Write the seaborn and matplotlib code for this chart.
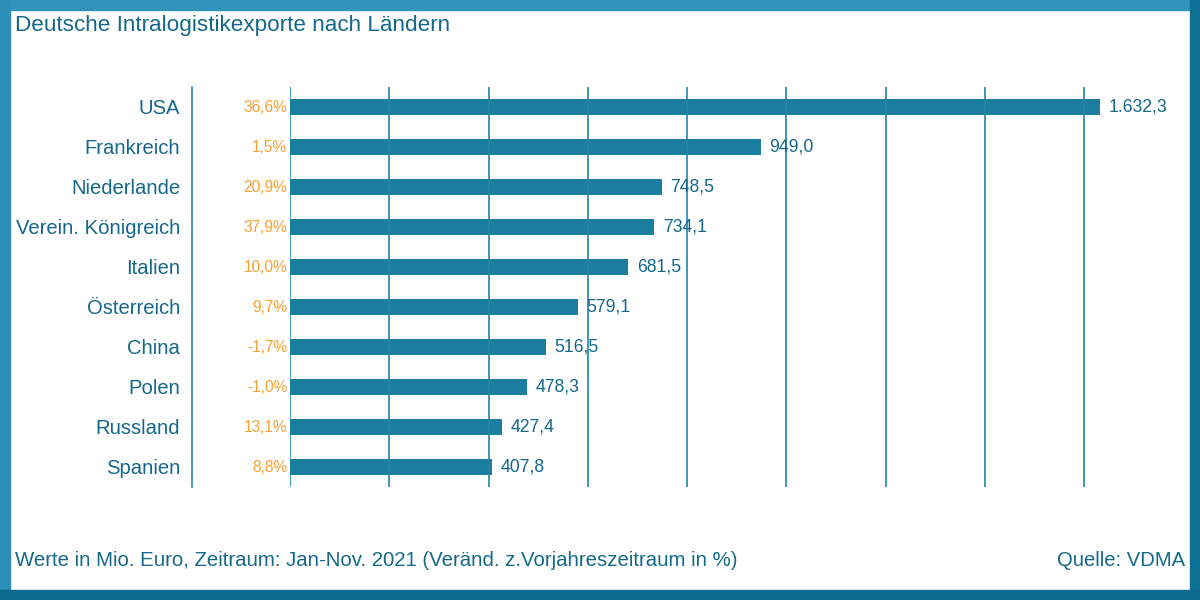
import matplotlib.pyplot as plt
import seaborn as sns
from matplotlib.patches import Rectangle
from matplotlib.lines import Line2D

# Data
countries = ['USA', 'Frankreich', 'Niederlande', 'Verein. Königreich', 'Italien',
             'Österreich', 'China', 'Polen', 'Russland', 'Spanien']
values = [1632.3, 949.0, 748.5, 734.1, 681.5, 579.1, 516.5, 478.3, 427.4, 407.8]
changes = [36.6, 1.5, 20.9, 37.9, 10.0, 9.7, -1.7, -1.0, 13.1, 8.8]
grid_ticks = [0, 200, 400, 600, 800, 1000, 1200, 1400, 1600]

bar_color = '#1b7da0'
text_color = '#14688a'
grid_color = '#3a92b5'
pct_color = '#f5a133'


def de_num(v, dec=1):
    s = f'{v:,.{dec}f}'
    return s.replace(',', 'X').replace('.', ',').replace('X', '.')


sns.set_style('white')
plt.rcParams['font.family'] = ['Liberation Sans', 'DejaVu Sans']

fig = plt.figure(figsize=(12, 6), dpi=100)
ax = fig.add_axes([290 / 1200, 113 / 600, 844 / 1200, 400 / 600])

sns.barplot(x=values, y=countries, orient='h', color=bar_color, width=0.4,
            saturation=1, edgecolor='none', linewidth=0, ax=ax, zorder=2)

# vertical grid lines, full height
ax.vlines(grid_ticks, -0.5, 9.5, colors=grid_color, linewidth=1.3, zorder=1)
ax.vlines(grid_ticks[1:], -0.5, 9.5, colors=grid_color, linewidth=1.3, alpha=0.35, zorder=3)

ax.set_xlim(0, 1700)
ax.set_ylim(9.5, -0.5)
ax.set_xticks([])
ax.grid(False)
for s in ax.spines.values():
    s.set_visible(False)
ax.set_xlabel('')
ax.set_ylabel('')

ax.tick_params(axis='y', length=0, pad=79, labelsize=14.6, labelcolor=text_color)

# value labels and change labels
for i, (v, c) in enumerate(zip(values, changes)):
    ax.annotate(de_num(v), xy=(v, i), xytext=(6, 0), textcoords='offset points',
                ha='left', va='center', fontsize=12.7, color=text_color)
    ax.annotate(de_num(c) + '%', xy=(0, i), xytext=(-2, 0), textcoords='offset points',
                ha='right', va='center', fontsize=11.2, color=pct_color)

# separator between labels and percentages
fig.add_artist(Line2D([192 / 1200, 192 / 1200], [113 / 600, 513 / 600],
                      color=grid_color, linewidth=1.3))

fig.text(15 / 1200, 1 - 25 / 600, 'Deutsche Intralogistikexporte nach Ländern',
         ha='left', va='center', fontsize=16.2, color=text_color)
fig.text(15 / 1200, 1 - 561 / 600,
         'Werte in Mio. Euro, Zeitraum: Jan-Nov. 2021 (Veränd. z.Vorjahreszeitraum in %)',
         ha='left', va='center', fontsize=14.7, color=text_color)
fig.text(1185 / 1200, 1 - 561 / 600, 'Quelle: VDMA',
         ha='right', va='center', fontsize=14.6, color=text_color)

# blue frame
fig.add_artist(Rectangle((0, 1 - 10 / 600), 1, 10 / 600, transform=fig.transFigure,
                         color='#3193bb', zorder=10))
fig.add_artist(Rectangle((0, 0), 10 / 1200, 1, transform=fig.transFigure,
                         color='#2c8db5', zorder=10))
fig.add_artist(Rectangle((1 - 10 / 1200, 0), 10 / 1200, 1, transform=fig.transFigure,
                         color='#0f7096', zorder=10))
fig.add_artist(Rectangle((0, 0), 1, 10 / 600, transform=fig.transFigure,
                         color='#0c6a8f', zorder=10))

fig.savefig('out.png', dpi=100)
